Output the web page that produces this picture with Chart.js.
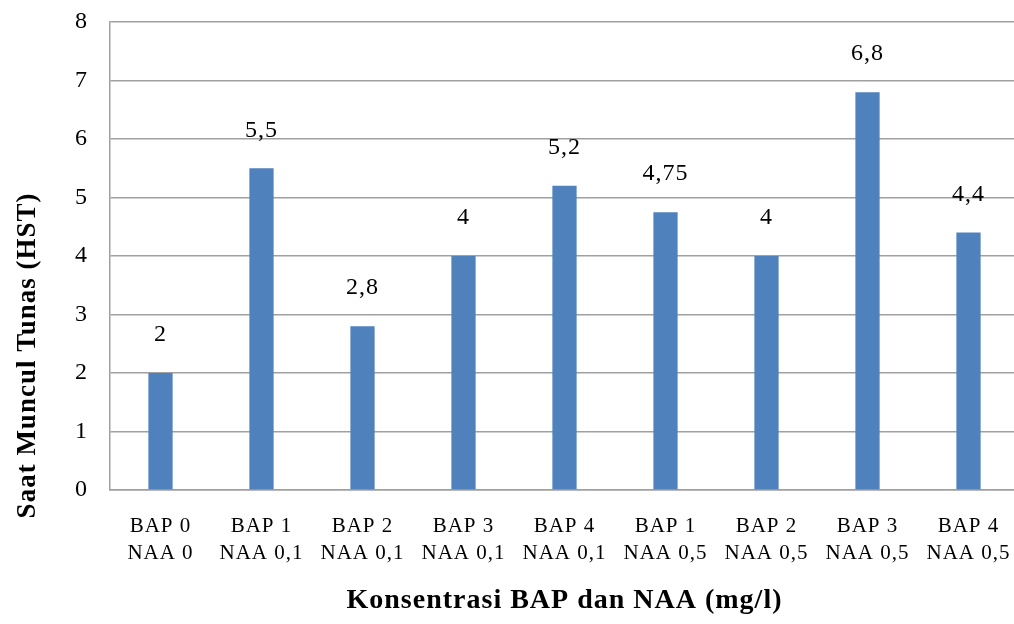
<!DOCTYPE html>
<html>
<head>
<meta charset="utf-8">
<script src="https://cdn.jsdelivr.net/npm/chart.js@4.4.1/dist/chart.umd.min.js"></script>
<style>
  html, body { margin: 0; padding: 0; background: #fff; }
  #luar { width: 1014px; height: 624px; overflow: hidden; }
  #wrap { width: 1019px; height: 624px; }
</style>
</head>
<body>
<div id="luar"><div id="wrap"><canvas id="grafik"></canvas></div></div>
<script>
// --- Data ---
const kategori = [
  ['BAP 0', 'NAA 0'],
  ['BAP 1', 'NAA 0,1'],
  ['BAP 2', 'NAA 0,1'],
  ['BAP 3', 'NAA 0,1'],
  ['BAP 4', 'NAA 0,1'],
  ['BAP 1', 'NAA 0,5'],
  ['BAP 2', 'NAA 0,5'],
  ['BAP 3', 'NAA 0,5'],
  ['BAP 4', 'NAA 0,5']
];
const saatMuncul = [2, 5.5, 2.8, 4, 5.2, 4.75, 4, 6.8, 4.4];
const labelNilai = ['2', '5,5', '2,8', '4', '5,2', '4,75', '4', '6,8', '4,4'];
const judulY = 'Saat Muncul Tunas (HST)';
const judulX = 'Konsentrasi BAP dan NAA (mg/l)';

const serif = '"Liberation Serif", "Times New Roman", serif';

// huruf sedikit renggang seperti gambar asli
const renggang = {
  id: 'renggang',
  beforeUpdate(chart) { chart.ctx.letterSpacing = '1px'; },
  beforeDraw(chart) { chart.ctx.letterSpacing = '1px'; }
};

// label angka di atas batang + judul sumbu Y (posisinya agak ke bawah)
const labelBatang = {
  id: 'labelBatang',
  afterDatasetsDraw(chart) {
    const ctx = chart.ctx;
    const meta = chart.getDatasetMeta(0);
    ctx.save();
    ctx.fillStyle = '#000';
    ctx.font = '24px ' + serif;
    ctx.textAlign = 'center';
    ctx.textBaseline = 'middle';
    meta.data.forEach((bar, i) => {
      ctx.fillText(labelNilai[i], bar.x, bar.y - 38);
    });

    const yScale = chart.scales.y;
    ctx.translate(28, yScale.getPixelForValue(2.3));
    ctx.rotate(-Math.PI / 2);
    ctx.font = 'bold 27px ' + serif;
    ctx.fillText(judulY, 0, 0);
    ctx.restore();
  }
};

new Chart(document.getElementById('grafik'), {
  type: 'bar',
  data: {
    labels: kategori,
    datasets: [{
      data: saatMuncul,
      backgroundColor: '#4f81bd',
      barPercentage: 0.24,
      categoryPercentage: 1
    }]
  },
  options: {
    responsive: true,
    maintainAspectRatio: false,
    animation: false,
    layout: { padding: { top: 22, right: 0, left: 0, bottom: 0 } },
    plugins: {
      legend: { display: false },
      tooltip: { enabled: false }
    },
    scales: {
      x: {
        grid: { display: false, drawTicks: false },
        border: { color: '#a0a0a0', width: 1.5 },
        ticks: {
          color: '#000',
          font: { family: serif, size: 21, lineHeight: 1.3 },
          padding: 23,
          maxRotation: 0,
          autoSkip: false
        },
        title: {
          display: true,
          text: judulX,
          color: '#000',
          font: { family: serif, size: 28, weight: 'bold' },
          padding: { top: 20, bottom: 6 }
        },
        afterFit(scale) {
          scale.height = 134;
          scale.paddingLeft = 0;
          scale.paddingRight = 0;
        }
      },
      y: {
        min: 0,
        max: 8,
        ticks: {
          stepSize: 1,
          color: '#000',
          font: { family: serif, size: 24 },
          padding: 22
        },
        grid: { color: '#a0a0a0', lineWidth: 1.5, drawTicks: false },
        border: { color: '#a0a0a0', width: 1.5 },
        afterFit(scale) {
          scale.width = 110;
          scale.paddingTop = 0;
          scale.paddingBottom = 0;
        }
      }
    }
  },
  plugins: [renggang, labelBatang]
});
</script>
</body>
</html>
